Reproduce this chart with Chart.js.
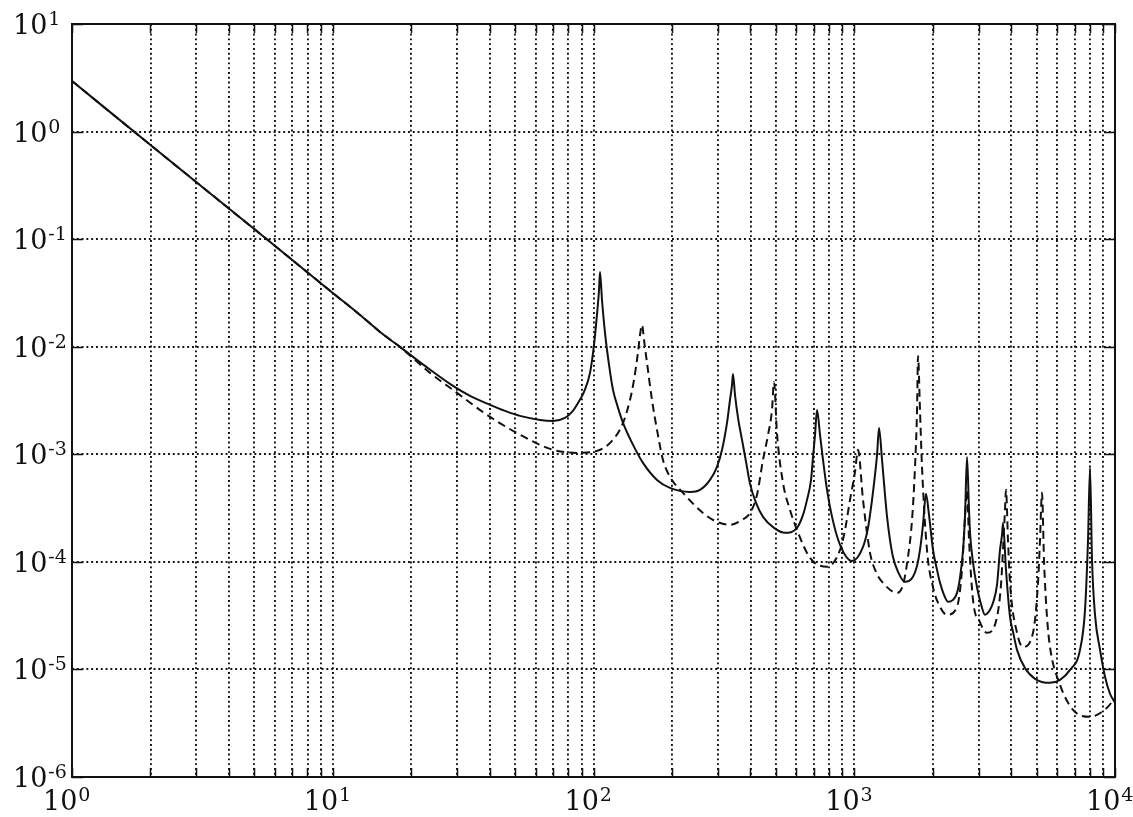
<!DOCTYPE html>
<html>
<head>
<meta charset="utf-8">
<script src="https://cdn.jsdelivr.net/npm/chart.js@4/dist/chart.umd.min.js"></script>
<style>
  html, body { margin: 0; padding: 0; background: #fff; }
  canvas { display: block; }
</style>
</head>
<body>
<canvas id="resp" width="1133" height="817"></canvas>
<script>
// frequency axis ticks (grid at every 1..9 x 10^k) and decade ticks on the response axis
const xTicks = [];
[1, 10, 100, 1000].forEach(d => {
    for (let m = 1; m < 10; m++) xTicks.push(m * d);
});
xTicks.push(10000);
const xDecades = [1, 10, 100, 1000, 10000];
const yDecades = [1e-6, 1e-5, 1e-4, 1e-3, 1e-2, 1e-1, 1, 10];

// solid curve
const solidFreq = [1, 2, 5, 10, 12.72, 15.18, 18.11, 22.58, 28.92, 33.6, 40.1, 45.78, 52.26, 62.35, 69.95, 77.74, 82.7, 87.22, 91.96, 96.96, 100.45, 103.1, 105, 105.9, 107.8, 110.7, 114.7, 118.8, 124.2, 129.8, 141.8, 154.8, 175.2, 196.5, 234.5, 256.1, 279.8, 297.6, 311.1, 325.1, 333.8, 339.8, 342.7, 348.9, 358.3, 371.2, 384.6, 398.4, 420.1, 446.8, 492.3, 542.4, 603.2, 636, 658.9, 682.7, 694.9, 707.3, 719.8, 739.2, 759, 786.3, 821.9, 882, 980.4, 1080.5, 1129, 1170, 1201, 1223, 1244.6, 1278, 1312, 1336, 1371, 1408, 1472, 1565, 1680, 1741, 1787, 1835, 1884, 1935, 2005, 2077, 2133, 2209, 2288, 2391, 2478, 2544, 2614, 2660, 2707, 2755, 2780, 2854, 2957, 3063, 3172, 3316, 3405, 3528, 3622, 3687, 3719, 3819, 3957, 4063, 4209, 4517, 4934, 5632, 6153, 6722, 7341, 7674, 7880, 8020, 8163, 8382, 8762, 9156, 9569, 10000];
const solidVals = [2.95, 0.75, 0.124, 0.0316, 0.01975, 0.01372, 0.00996, 0.00663, 0.00432, 0.00349, 0.00288, 0.00253, 0.002275, 0.002088, 0.002044, 0.00218, 0.002477, 0.003004, 0.003801, 0.005706, 0.01039, 0.01975, 0.0337, 0.0496, 0.0272, 0.01343, 0.00677, 0.00397, 0.0027, 0.00196, 0.001223, 0.000832, 0.000578, 0.000487, 0.000447, 0.000467, 0.000578, 0.000764, 0.0011, 0.00196, 0.0032, 0.00442, 0.00559, 0.00356, 0.00218, 0.00136, 0.00085, 0.000531, 0.000353, 0.000262, 0.000207, 0.000186, 0.000207, 0.000273, 0.000377, 0.000578, 0.000946, 0.001515, 0.002586, 0.001515, 0.000887, 0.000467, 0.000262, 0.000144, 0.000102, 0.000138, 0.000207, 0.000377, 0.000643, 0.000987, 0.00176, 0.000887, 0.000419, 0.000262, 0.00016, 0.000111, 0.0000807, 0.0000652, 0.0000726, 0.0000918, 0.000129, 0.000221, 0.000429, 0.000273, 0.000129, 0.0000842, 0.0000638, 0.0000493, 0.0000425, 0.0000443, 0.0000515, 0.000071, 0.000129, 0.000273, 0.000946, 0.000304, 0.000186, 0.0000989, 0.0000579, 0.0000403, 0.0000322, 0.0000358, 0.0000416, 0.0000611, 0.000129, 0.000178, 0.00023, 0.0000842, 0.0000308, 0.0000224, 0.0000152, 0.0000103, 0.00000818, 0.0000075, 0.000008, 0.0000099, 0.0000152, 0.0000358, 0.00016, 0.000747, 0.000104, 0.0000322, 0.0000152, 0.00000855, 0.00000594, 0.0000049];

// dashed curve
const dashFreq = [1, 2, 5, 10, 12.72, 15.18, 18.11, 23.6, 28.92, 40.1, 57.08, 69.95, 86.44, 99.57, 115.7, 129.8, 138, 143, 148.2, 150.8, 153.5, 156.2, 160.4, 167.6, 175.2, 184.7, 196.5, 220.4, 263, 292.4, 333.8, 371.2, 398.4, 423.6, 446.8, 467, 483.6, 492.3, 505.4, 533.1, 567, 603.2, 676.7, 786.3, 882, 921.6, 963.1, 1006.7, 1033.7, 1080.5, 1149, 1211, 1289, 1459, 1538, 1607, 1666, 1710, 1741, 1756, 1787, 1819, 1901, 2005, 2133, 2268, 2478, 2589, 2660, 2707, 2755, 2854, 3036, 3229, 3528, 3654, 3719, 3785, 3819, 3887, 3957, 4209, 4438, 4848, 5067, 5157, 5248, 5342, 5485, 5632, 6153, 6903, 8020, 9318, 10000];
const dashVals = [2.95, 0.75, 0.124, 0.0316, 0.01975, 0.01372, 0.00996, 0.00571, 0.00397, 0.002227, 0.00136, 0.0011, 0.00103, 0.001053, 0.001276, 0.00196, 0.0032, 0.00491, 0.00895, 0.01288, 0.01594, 0.01156, 0.00707, 0.0032, 0.001686, 0.000887, 0.000617, 0.000438, 0.000285, 0.00024, 0.000221, 0.000246, 0.000285, 0.000419, 0.000887, 0.001515, 0.002586, 0.00471, 0.00158, 0.000542, 0.000304, 0.000198, 0.000109, 0.0000899, 0.000129, 0.000198, 0.000377, 0.000686, 0.0011, 0.000377, 0.000122, 0.0000807, 0.0000638, 0.0000515, 0.0000611, 0.000111, 0.000246, 0.000764, 0.002586, 0.00821, 0.002586, 0.000764, 0.000129, 0.0000579, 0.0000382, 0.0000322, 0.0000382, 0.0000842, 0.000262, 0.000467, 0.00016, 0.0000443, 0.0000274, 0.0000219, 0.0000308, 0.0000611, 0.000129, 0.000304, 0.000467, 0.00016, 0.0000638, 0.0000219, 0.0000162, 0.0000219, 0.0000638, 0.00016, 0.000438, 0.000104, 0.0000308, 0.0000162, 0.0000072, 0.00000421, 0.00000363, 0.0000044, 0.00000545];

const toPoints = (xs, ys) => xs.map((x, i) => ({ x: x, y: ys[i] }));

const SERIF = '"DejaVu Serif", "Liberation Serif", serif';
const INK = '#111';

// frame, inward tick marks and 10^n labels
const framePlugin = {
    id: 'frame',
    afterDraw(chart) {
        const { ctx, chartArea: a, scales: { x, y } } = chart;
        ctx.save();
        ctx.strokeStyle = INK;
        ctx.lineWidth = 2;
        ctx.strokeRect(a.left, a.top, a.right - a.left, a.bottom - a.top);

        ctx.lineWidth = 1.5;
        ctx.beginPath();
        xTicks.forEach(v => {
            const px = Math.round(x.getPixelForValue(v)) + 0.5;
            ctx.moveTo(px, a.bottom); ctx.lineTo(px, a.bottom - 9);
            ctx.moveTo(px, a.top); ctx.lineTo(px, a.top + 9);
        });
        yDecades.forEach(v => {
            const py = Math.round(y.getPixelForValue(v)) + 0.5;
            ctx.moveTo(a.left, py); ctx.lineTo(a.left + 11, py);
            ctx.moveTo(a.right, py); ctx.lineTo(a.right - 11, py);
        });
        ctx.stroke();

        ctx.fillStyle = INK;
        ctx.textAlign = 'left';
        ctx.textBaseline = 'alphabetic';
        const label = (exp, left, base) => {
            ctx.font = '27px ' + SERIF;
            ctx.fillText('10', left, base);
            const w = ctx.measureText('10').width;
            ctx.font = '19px ' + SERIF;
            ctx.fillText(String(exp), left + w + 1, base - 9);
        };
        yDecades.forEach(v => {
            const py = y.getPixelForValue(v);
            label(Math.round(Math.log10(v)), 13, py + 10);
        });
        xDecades.forEach(v => {
            const px = x.getPixelForValue(v);
            label(Math.round(Math.log10(v)), px - 29, 810);
        });
        ctx.restore();
    }
};

const ctx = document.getElementById('resp').getContext('2d');
new Chart(ctx, {
    type: 'scatter',
    data: {
        datasets: [
            {
                label: 'solid',
                data: toPoints(solidFreq, solidVals),
                showLine: true,
                borderColor: INK,
                borderWidth: 2,
                pointRadius: 0,
                cubicInterpolationMode: 'monotone'
            },
            {
                label: 'dashed',
                data: toPoints(dashFreq, dashVals),
                showLine: true,
                borderColor: INK,
                borderWidth: 2,
                borderDash: [8, 5],
                pointRadius: 0,
                cubicInterpolationMode: 'monotone'
            }
        ]
    },
    options: {
        responsive: false,
        devicePixelRatio: 1,
        animation: false,
        layout: { padding: { left: 72, right: 18, top: 24, bottom: 40 } },
        plugins: {
            legend: { display: false },
            tooltip: { enabled: false }
        },
        scales: {
            x: {
                type: 'logarithmic',
                min: 1,
                max: 10000,
                afterBuildTicks: scale => { scale.ticks = xTicks.map(v => ({ value: v })); },
                ticks: { display: false },
                grid: { color: INK, lineWidth: 1.9, drawTicks: false },
                border: { display: false, dash: [1.9, 2.9] }
            },
            y: {
                type: 'logarithmic',
                min: 1e-6,
                max: 10,
                afterBuildTicks: scale => { scale.ticks = yDecades.map(v => ({ value: v })); },
                ticks: { display: false },
                grid: { color: INK, lineWidth: 1.9, drawTicks: false },
                border: { display: false, dash: [1.9, 2.9] }
            }
        }
    },
    plugins: [framePlugin]
});
</script>
</body>
</html>
